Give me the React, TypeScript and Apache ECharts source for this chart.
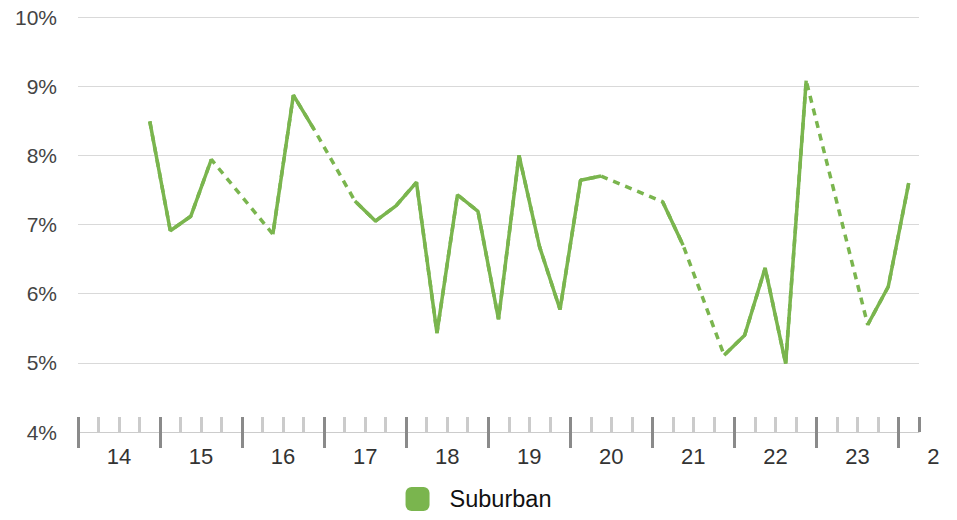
import React, { useEffect, useRef } from "react";
import * as echarts from "echarts";

// Quarterly values, 2014 Q1 .. 2024 Q1 (null = no data)
const quarters: string[] = [];
for (let y = 2014; y <= 2024; y++) {
  for (let q = 1; q <= 4; q++) {
    if (y === 2024 && q > 1) break;
    quarters.push(`${y} Q${q}`);
  }
}
const suburban: (number | null)[] = [
  null, null, null, 8.49,
  6.91, 7.12, 7.94, null,
  null, 6.86, 8.87, 8.38,
  null, 7.34, 7.05, 7.27,
  7.61, 5.43, 7.43, 7.19,
  5.63, 8.0, 6.68, 5.77,
  7.64, 7.7, null, null,
  7.33, 6.7, null, 5.11,
  5.4, 6.37, 4.99, 9.08,
  null, null, 5.55, 6.1,
  7.6,
];
const yearLabels = ["14", "15", "16", "17", "18", "19", "20", "21", "22", "23", "2"];
const seriesName = "Suburban";
const green = "#7ab54e";

export default function App() {
  const ref = useRef<HTMLDivElement>(null);
  useEffect(() => {
    if (!ref.current) return;
    const chart = echarts.init(ref.current, null, { renderer: "svg" });
    const n = quarters.length;
    const pts = suburban.map((v, i) => [i + 0.5, v === null ? null : v]);
    const font = "'Liberation Sans', Arial, Helvetica, sans-serif";
    const baseX = { type: "value", min: 0, max: n, gridIndex: 0, position: "bottom", splitLine: { show: false } };
    chart.setOption({
      animation: false,
      textStyle: { fontFamily: font },
      grid: { left: 78, right: 38, top: 17, bottom: 88 },
      xAxis: [
        { ...baseX, show: false },
        {
          ...baseX,
          interval: 1,
          axisLine: { show: true, lineStyle: { color: "#cccccc", width: 1 } },
          axisTick: { show: true, inside: true, length: 15, lineStyle: { color: "#cbcbcb", width: 3 } },
          axisLabel: { show: false },
        },
        {
          ...baseX,
          interval: 4,
          axisLine: { show: false },
          axisTick: { show: true, inside: true, length: 15, lineStyle: { color: "#8a8a8a", width: 3 } },
          axisLabel: { show: false },
        },
        {
          ...baseX,
          interval: 4,
          axisLine: { show: false },
          axisTick: { show: true, inside: false, length: 16, lineStyle: { color: "#8a8a8a", width: 3 } },
          axisLabel: {
            show: true,
            margin: 13,
            fontSize: 22,
            color: "#333333",
            fontFamily: font,
            padding: [0, 0, 0, 82],
            showMinLabel: true,
            showMaxLabel: false,
            formatter: (v: number) => {
              const i = Math.round(v / 4);
              const t = yearLabels[i] ?? "";
              return i === yearLabels.length - 1 ? `{last|${t}}` : t;
            },
            rich: {
              last: { fontSize: 22, color: "#333333", fontFamily: font, padding: [0, 12, 0, 0] },
            },
          },
        },
      ],
      yAxis: {
        type: "value",
        min: 4,
        max: 10,
        interval: 1,
        axisLine: { show: false },
        axisTick: { show: false },
        splitLine: { show: true, lineStyle: { color: "#d9d9d9", width: 1 } },
        axisLabel: { formatter: "{value}%", fontSize: 21, color: "#444444", margin: 21, fontFamily: font },
      },
      legend: {
        data: [seriesName],
        bottom: 4,
        left: "center",
        icon: "roundRect",
        itemWidth: 24,
        itemHeight: 24,
        itemGap: 20,
        textStyle: { fontSize: 23.5, color: "#111111", fontFamily: font, padding: [0, 0, 0, 15] },
      },
      series: [
        {
          name: seriesName,
          type: "line",
          xAxisIndex: 0,
          data: pts,
          connectNulls: true,
          showSymbol: false,
          symbol: "none",
          itemStyle: { color: green },
          lineStyle: { color: green, width: 3.5, type: [7, 6] },
          z: 2,
        },
        {
          name: seriesName,
          type: "line",
          xAxisIndex: 0,
          data: pts,
          connectNulls: false,
          showSymbol: false,
          symbol: "none",
          itemStyle: { color: green },
          lineStyle: { color: green, width: 3.5 },
          z: 3,
        },
      ],
    });
    return () => chart.dispose();
  }, []);
  return <div ref={ref} style={{ width: 957, height: 520, margin: -8 }} />;
}
